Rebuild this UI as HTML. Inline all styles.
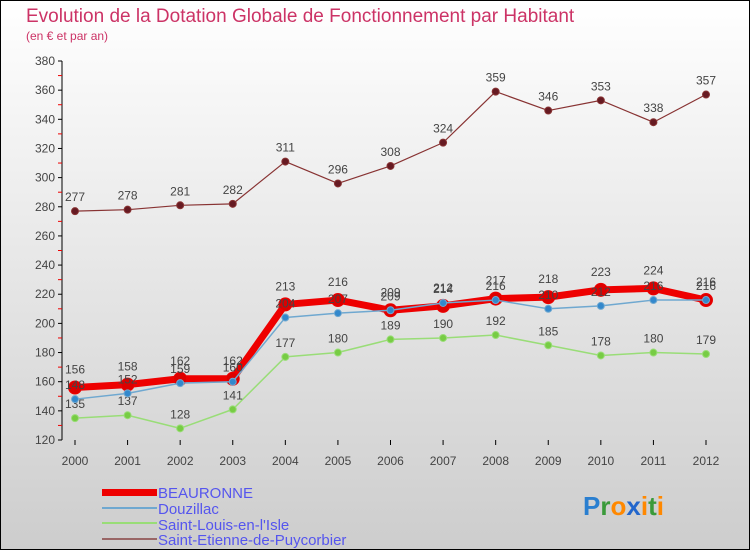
<!DOCTYPE html>
<html><head><meta charset="utf-8"><style>
html,body{margin:0;padding:0}
body{width:750px;height:550px;overflow:hidden;font-family:"Liberation Sans",sans-serif}
</style></head><body>
<svg id="chart" width="750" height="550" xmlns="http://www.w3.org/2000/svg">
<defs><linearGradient id="bg" x1="0" y1="0" x2="0" y2="1"><stop offset="0" stop-color="#ffffff"/><stop offset="1" stop-color="#cdcdcd"/></linearGradient></defs>
<rect x="0.5" y="0.5" width="749" height="549" fill="url(#bg)" stroke="#000"/>
<text x="26" y="22" font-size="19" fill="#cc3366">Evolution de la Dotation Globale de Fonctionnement par Habitant</text>
<text x="26" y="40" font-size="12" fill="#cc3366">(en € et par an)</text>
<g id="axes"></g><g id="series"></g>
<g font-size="15" fill="#5555ee">
<rect x="102" y="489" width="55" height="7" fill="#ee0000"/>
<text x="158" y="498">BEAURONNE</text>
<rect x="102" y="507" width="55" height="2" fill="#6fa8d0"/>
<text x="158" y="514">Douzillac</text>
<rect x="102" y="522" width="55" height="2" fill="#99dd77"/>
<text x="158" y="530">Saint-Louis-en-l'Isle</text>
<rect x="102" y="538" width="55" height="2" fill="#996666"/>
<text x="158" y="545">Saint-Etienne-de-Puycorbier</text>
</g>
<text x="583" y="515" font-size="26" font-weight="bold" fill="#2a7fd0">P<tspan fill="#3a9a3a">r</tspan><tspan fill="#ff8800">o</tspan><tspan fill="#2266cc">x</tspan><tspan fill="#ff8800">i</tspan><tspan fill="#3a9a3a">t</tspan><tspan fill="#ff8800">i</tspan></text>
</svg>
<script>
const years=[2000,2001,2002,2003,2004,2005,2006,2007,2008,2009,2010,2011,2012];
const yTicks=[120,140,160,180,200,220,240,260,280,300,320,340,360,380];
const beauronne=[156,158,162,162,213,216,209,212,217,218,223,224,216];
const douzillac=[148,152,159,160,204,207,209,214,216,210,212,216,216];
const saintLouis=[135,137,128,141,177,180,189,190,192,185,178,180,179];
const saintEtienne=[277,278,281,282,311,296,308,324,359,346,353,338,357];
const NS="http://www.w3.org/2000/svg";
const X=i=>75+i*(706-75)/12;
const Y=v=>440-(v-120)*(440-61)/260;
function el(t,a,p){const e=document.createElementNS(NS,t);for(const k in a)e.setAttribute(k,a[k]);p.appendChild(e);return e;}
const ax=document.getElementById('axes');
const yl=el('line',{x1:62,y1:61,x2:62,y2:440,stroke:'#000'},ax);


yTicks.forEach(v=>{
  el('line',{x1:58,y1:Y(v),x2:62,y2:Y(v),stroke:'#000'},ax);
  if(v<380)el('line',{x1:58,y1:Y(v+10),x2:62,y2:Y(v+10),stroke:'#e00'},ax);
  const t=el('text',{x:55,y:Y(v)+4,'font-size':12,fill:'#444','text-anchor':'end'},ax);
  
  
  t.textContent=v;
});
years.forEach((y,i)=>{
  el('line',{x1:X(i),y1:440,x2:X(i),y2:445,stroke:'#000'},ax);
  const t=el('text',{x:X(i),y:465,'font-size':12,fill:'#444','text-anchor':'middle'},ax);
  
  
  t.textContent=y;
});
const sg=document.getElementById('series');
function draw(name,vals,color,w,r,dot,lab){
  const g=el('g',{},sg);
  
  
  el('polyline',{points:vals.map((v,i)=>X(i)+','+Y(v)).join(' '),fill:'none',stroke:color,'stroke-width':w,'stroke-linejoin':'round'},g);
  vals.forEach((v,i)=>{
    const c=el('circle',{cx:X(i),cy:Y(v),r:r,fill:dot,stroke:color,'stroke-width':1},g);
    
    
    const t=el('text',{x:X(i),y:Y(v)-lab,'font-size':12,fill:'#444','text-anchor':'middle'},g);
    
    
    t.textContent=v;
  });
}
draw('saint-etienne',saintEtienne,'#883333',1.2,3.5,'#661a22',10);
draw('saint-louis',saintLouis,'#99dd77',1.5,3.5,'#77cc44',10);
draw('beauronne',beauronne,'#ee0000',7,6.5,'#dd0000',14);
draw('douzillac',douzillac,'#6fa8d0',1.5,3.5,'#3388cc',10);
</script>
</body></html>
